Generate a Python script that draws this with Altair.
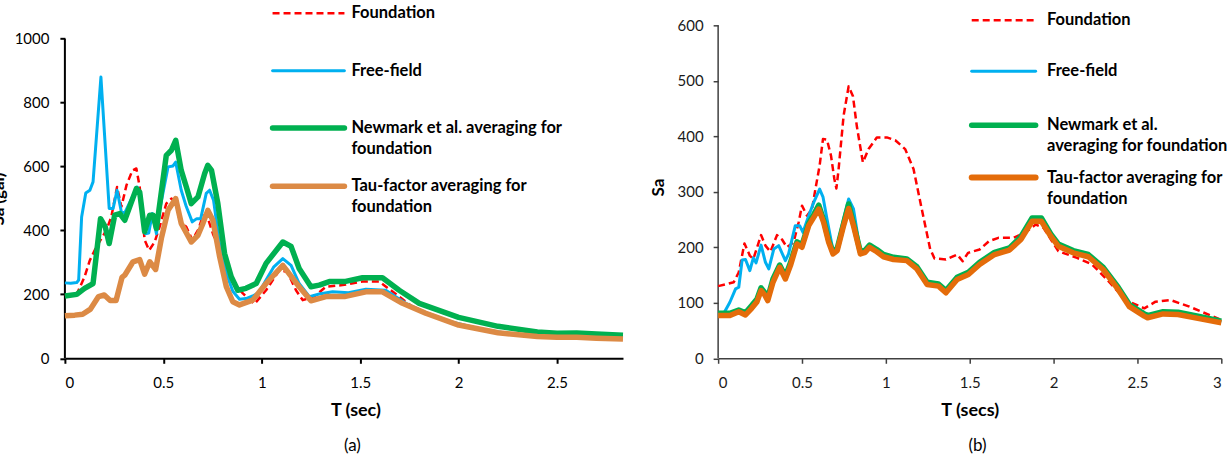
import altair as alt
import pandas as pd

# ---------------- Panel (a) data ----------------
a_found_T = [0, 0.06, 0.10, 0.127, 0.16, 0.211, 0.236, 0.265, 0.287, 0.313, 0.343, 0.363, 0.38, 0.405, 0.428,
             0.456, 0.481, 0.515, 0.541, 0.563, 0.583, 0.617, 0.647, 0.676, 0.70, 0.718, 0.752, 0.786, 0.82,
             0.853, 0.904, 0.963, 1.022, 1.09, 1.13, 1.174, 1.208, 1.267, 1.326, 1.41, 1.512, 1.597, 1.698,
             1.766, 1.85, 2.0, 2.2, 2.4, 2.5, 2.6, 2.7, 2.835]
a_found_Sa = [195, 200, 255, 307, 349, 401, 443, 536, 474, 542, 588, 594, 536, 370, 338,
              364, 411, 484, 500, 490, 432, 411, 370, 401, 443, 453, 390, 338, 286,
              240, 203, 170, 213, 276, 270, 213, 182, 193, 224, 229, 240, 240, 193,
              161, 140, 104, 80, 68, 66, 66, 63, 60]

a_free_T = [0, 0.03, 0.06, 0.07, 0.085, 0.106, 0.127, 0.143, 0.183, 0.225, 0.245, 0.265, 0.287, 0.304, 0.367,
            0.384, 0.409, 0.426, 0.444, 0.465, 0.481, 0.524, 0.549, 0.563, 0.591, 0.617, 0.647, 0.67, 0.69,
            0.718, 0.735, 0.755, 0.786, 0.82, 0.853, 0.887, 0.92, 0.954, 0.985, 1.022, 1.06, 1.107, 1.149,
            1.19, 1.242, 1.292, 1.36, 1.44, 1.529, 1.63, 1.732, 1.833, 1.95, 2.1, 2.25, 2.4, 2.5, 2.6, 2.7, 2.835]
a_free_Sa = [236, 235, 237, 245, 442, 517, 526, 552, 880, 469, 469, 526, 458, 455, 536,
             515, 390, 392, 453, 390, 463, 599, 602, 614, 526, 474, 427, 437, 437,
             516, 526, 495, 355, 266, 210, 185, 187, 195, 205, 245, 285, 312, 291,
             234, 193, 201, 208, 205, 216, 213, 172, 143, 116, 93, 78, 69, 67, 68, 65, 63]

a_newm_T = [0, 0.06, 0.10, 0.143, 0.181, 0.205, 0.225, 0.253, 0.279, 0.304, 0.363, 0.38, 0.405, 0.431, 0.448,
            0.465, 0.515, 0.541, 0.563, 0.591, 0.617, 0.642, 0.676, 0.71, 0.726, 0.745, 0.777, 0.811, 0.845,
            0.878, 0.92, 0.972, 1.022, 1.107, 1.149, 1.19, 1.25, 1.292, 1.343, 1.42, 1.512, 1.613, 1.698,
            1.80, 1.85, 2.0, 2.2, 2.4, 2.5, 2.6, 2.7, 2.835]
a_newm_Sa = [195, 200, 219, 234, 437, 411, 359, 448, 453, 432, 531, 520, 396, 448, 448,
             406, 635, 651, 682, 588, 536, 484, 505, 578, 604, 588, 484, 328, 255,
             213, 219, 234, 297, 364, 350, 281, 224, 229, 240, 240, 252, 252, 213,
             172, 161, 128, 100, 82, 78, 79, 76, 72]

a_tau_T = [0, 0.05, 0.09, 0.13, 0.171, 0.20, 0.23, 0.26, 0.29, 0.304, 0.346, 0.38, 0.405, 0.431, 0.461,
           0.49, 0.524, 0.563, 0.591, 0.642, 0.676, 0.698, 0.726, 0.752, 0.786, 0.82, 0.853, 0.887, 0.954,
           1.022, 1.107, 1.19, 1.25, 1.326, 1.42, 1.529, 1.613, 1.715, 1.833, 2.0, 2.2, 2.4, 2.5, 2.6, 2.7, 2.835]
a_tau_Sa = [133, 135, 138, 154, 193, 198, 181, 181, 253, 260, 302, 309, 263, 302, 278,
            375, 463, 500, 422, 364, 385, 417, 463, 432, 318, 224, 177, 167, 182,
            234, 291, 224, 180, 193, 193, 208, 208, 172, 141, 104, 80, 68, 66, 66, 63, 60]

# ---------------- Panel (b) data ----------------
b_found_T = [0, 0.093, 0.123, 0.157, 0.189, 0.21, 0.256, 0.282, 0.312, 0.351, 0.381, 0.41, 0.45, 0.48, 0.50,
             0.53, 0.56, 0.58, 0.605, 0.625, 0.649, 0.673, 0.693, 0.705, 0.718, 0.748, 0.778, 0.804, 0.827,
             0.863, 0.897, 0.946, 1.006, 1.056, 1.115, 1.165, 1.214, 1.264, 1.29, 1.358, 1.425, 1.458, 1.49,
             1.559, 1.615, 1.671, 1.76, 1.827, 1.894, 1.94, 2.028, 2.14, 2.23, 2.318, 2.43, 2.541, 2.608,
             2.697, 2.81, 3.0]
b_found_Sa = [130, 137, 155, 207, 185, 179, 222, 203, 192, 222, 214, 200, 209, 245, 275,
              257, 269, 305, 347, 395, 394, 365, 323, 306, 340, 437, 490, 472, 418,
              353, 377, 398, 398, 393, 377, 341, 269, 197, 180, 178, 187, 175, 190,
              196, 211, 217, 217, 226, 241, 235, 193, 181, 169, 142, 105, 90, 102,
              105, 93, 69]

b_tau_T = [0, 0.07, 0.123, 0.163, 0.2, 0.232, 0.256, 0.276, 0.296, 0.327, 0.367, 0.401, 0.431, 0.47, 0.5,
           0.54, 0.57, 0.6, 0.629, 0.659, 0.685, 0.71, 0.748, 0.778, 0.807, 0.848, 0.877, 0.903, 0.946,
           0.986, 1.046, 1.125, 1.185, 1.246, 1.314, 1.358, 1.425, 1.492, 1.559, 1.648, 1.737, 1.805, 1.872,
           1.927, 1.983, 2.028, 2.117, 2.207, 2.296, 2.385, 2.452, 2.541, 2.56, 2.653, 2.742, 2.876, 3.0]
b_tau_Sa = [77, 77, 84, 78, 90, 102, 122, 115, 104, 137, 164, 143, 167, 206, 200,
            239, 254, 269, 245, 209, 188, 194, 239, 270, 239, 188, 191, 200, 192,
            183, 178, 176, 161, 133, 130, 118, 142, 151, 169, 187, 195, 214, 247,
            247, 220, 202, 190, 183, 160, 124, 93, 76, 73, 80, 79, 71, 64]

b_newm_T = b_tau_T
b_newm_Sa = [81, 81, 87, 82, 95, 107, 127, 119, 109, 143, 168, 148, 172, 210, 204,
             243, 259, 276, 249, 213, 191, 198, 243, 278, 243, 192, 195, 204, 196,
             187, 182, 179, 165, 137, 134, 122, 146, 155, 173, 191, 199, 219, 253,
             253, 224, 206, 194, 187, 164, 128, 97, 80, 77, 84, 83, 75, 67]

b_free_T = [0, 0.03, 0.07, 0.104, 0.123, 0.143, 0.163, 0.189, 0.21, 0.226, 0.256, 0.282, 0.302, 0.332, 0.361,
            0.401, 0.42, 0.46, 0.486, 0.506, 0.54, 0.57, 0.605, 0.625, 0.649, 0.685, 0.71, 0.748, 0.778,
            0.807, 0.848, 0.877, 0.903, 0.946, 0.986, 1.046, 1.125, 1.185, 1.254, 1.314, 1.358, 1.425, 1.492,
            1.559, 1.648, 1.737, 1.805, 1.872, 1.927, 1.983, 2.028, 2.117, 2.207, 2.296, 2.385, 2.452, 2.541,
            2.56, 2.653, 2.742, 2.876, 3.0]
b_free_Sa = [78, 79, 101, 125, 128, 177, 178, 158, 181, 172, 204, 173, 161, 197, 203,
             176, 188, 239, 239, 227, 257, 281, 305, 291, 251, 194, 202, 251, 287,
             269, 191, 194, 204, 194, 185, 180, 176, 161, 134, 133, 121, 145, 154,
             172, 190, 198, 218, 252, 252, 223, 205, 193, 186, 163, 127, 96, 79,
             76, 83, 82, 74, 66]

labels = ["Foundation", "Free-field", "Newmark et al. averaging for foundation",
          "Tau-factor averaging for foundation"]

FONT = "Lato"
RED, BLUE, GREEN = "#FF0000", "#00B0F0", "#00B050"
ORANGE_A, ORANGE_B = "#DC8A45", "#E46C0A"

one = pd.DataFrame({"k": [0]})


def legend_layers(lx1, lx2, tx, entries):
    layers = []
    for (y, lines, color, w, dash) in entries:
        kw = dict(color=color, strokeWidth=w, strokeCap="round" if dash is None else "butt")
        if dash is not None:
            kw["strokeDash"] = dash
        layers.append(alt.Chart(one).mark_rule(**kw).encode(
            x=alt.value(lx1), x2=alt.value(lx2), y=alt.value(y)))
        for i, txt in enumerate(lines):
            layers.append(alt.Chart(one).mark_text(
                text=txt, font=FONT, fontSize=16.5, fontWeight="bold", color="#000000",
                align="left", baseline="middle").encode(
                x=alt.value(tx), y=alt.value(y + i * 21)))
    return layers


def panel(series, xdom, xvals, ydom, yvals, W, H, xtitle, xtitle_x, ytitle, ytitle_x, ytitle_y,
          axis_color, label_color, axis_w, legend, caption, cap_x, ylabel_pad):
    xaxis = alt.Axis(values=xvals, format="~g", grid=False, domainColor=axis_color,
                     domainWidth=axis_w, tickColor=axis_color, tickWidth=axis_w, tickSize=5,
                     labelFont=FONT, labelFontSize=15, labelColor=label_color, labelPadding=12,
                     title=xtitle, titleFont=FONT, titleFontSize=18, titleFontWeight="bold",
                     titleColor="#000000", titleX=xtitle_x, titleY=52, titleBaseline="middle",
                     titleAlign="center")
    yaxis = alt.Axis(values=yvals, format="d", grid=False, domain=False, tickColor=axis_color,
                     tickWidth=axis_w, tickSize=5, labelFont=FONT, labelFontSize=15,
                     labelColor=label_color, labelPadding=ylabel_pad,
                     title=ytitle, titleFont=FONT, titleFontSize=17, titleFontWeight="bold",
                     titleColor="#000000", titleAngle=270, titleX=ytitle_x, titleY=ytitle_y,
                     titleBaseline="alphabetic", titleAlign="center")
    X = alt.X("T:Q", scale=alt.Scale(domain=xdom, nice=False, zero=False), axis=xaxis)
    Y = alt.Y("Sa:Q", scale=alt.Scale(domain=ydom, nice=False), axis=yaxis)

    layers = []
    # y axis line from 0 to the top tick
    dom = pd.DataFrame({"T": [0.0], "Sa": [0.0], "hi": [float(yvals[-1])]})
    layers.append(alt.Chart(dom).mark_rule(color=axis_color, strokeWidth=axis_w).encode(
        x=X, y=Y, y2="hi:Q"))
    for (T, S, color, w, dash) in series:
        df = pd.DataFrame({"T": T, "Sa": S})
        kw = dict(color=color, strokeWidth=w, strokeJoin="round")
        if dash is not None:
            kw["strokeDash"] = dash
        layers.append(alt.Chart(df).mark_line(**kw).encode(x=X, y=Y, order="T:Q"))
    layers += legend
    layers.append(alt.Chart(one).mark_text(text=caption, font=FONT, fontSize=17,
                                           color="#000000", align="center",
                                           baseline="middle").encode(
        x=alt.value(cap_x), y=alt.value(H + 88)))
    return alt.layer(*layers).properties(width=W, height=H)


H = 333.5
WA, WB = 559, 504

leg_a = legend_layers(208, 280, 287, [
    (-12.2, ["Foundation"], RED, 2.5, [7, 4]),
    (45.5, ["Free-field"], BLUE, 3, None),
    (102.8, ["Newmark et al. averaging for", "foundation"], GREEN, 5.5, None),
    (161.2, ["Tau-factor averaging for", "foundation"], ORANGE_A, 5.5, None),
])

leg_b = legend_layers(254, 318, 329.4, [
    (-5.1, ["Foundation"], RED, 2.5, [7, 4]),
    (45.9, ["Free-field"], BLUE, 3, None),
    (100.2, ["Newmark et al.", "averaging for foundation"], GREEN, 5.5, None),
    (152.5, ["Tau-factor averaging for", "foundation"], ORANGE_B, 6, None),
])

left = panel(
    [(a_found_T, a_found_Sa, RED, 2.5, [7, 4]),
     (a_free_T, a_free_Sa, BLUE, 3, None),
     (a_newm_T, a_newm_Sa, GREEN, 5.5, None),
     (a_tau_T, a_tau_Sa, ORANGE_A, 5.5, None)],
    [0, 2.835], [0, 0.5, 1, 1.5, 2, 2.5], [0, 1042], [0, 200, 400, 600, 800, 1000],
    WA, H, "T (sec)", 291, "Sa (gal)", -61, 173.5, "#000000", "#000000", 2,
    leg_a, "(a)", 288, 11)

right = panel(
    [(b_found_T, b_found_Sa, RED, 2.5, [7, 4]),
     (b_free_T, b_free_Sa, BLUE, 3, None),
     (b_newm_T, b_newm_Sa, GREEN, 5.5, None),
     (b_tau_T, b_tau_Sa, ORANGE_B, 5.5, None)],
    [0, 3], [0, 0.5, 1, 1.5, 2, 2.5, 3], [0, 600], [0, 100, 200, 300, 400, 500, 600],
    WB, H, "T (secs)", WB / 2, "Sa", -55, 162, "#404040", "#1a1a1a", 1.5,
    leg_b, "(b)", 259.7, 10)

chart = alt.hconcat(left, right, spacing=95.3, bounds="flush").properties(
    padding={"left": -10, "top": 4, "right": 0, "bottom": 0},
    background="#ffffff",
).configure_view(strokeWidth=0)

chart.save("out.html", embed_options={"renderer": "svg", "actions": False})
